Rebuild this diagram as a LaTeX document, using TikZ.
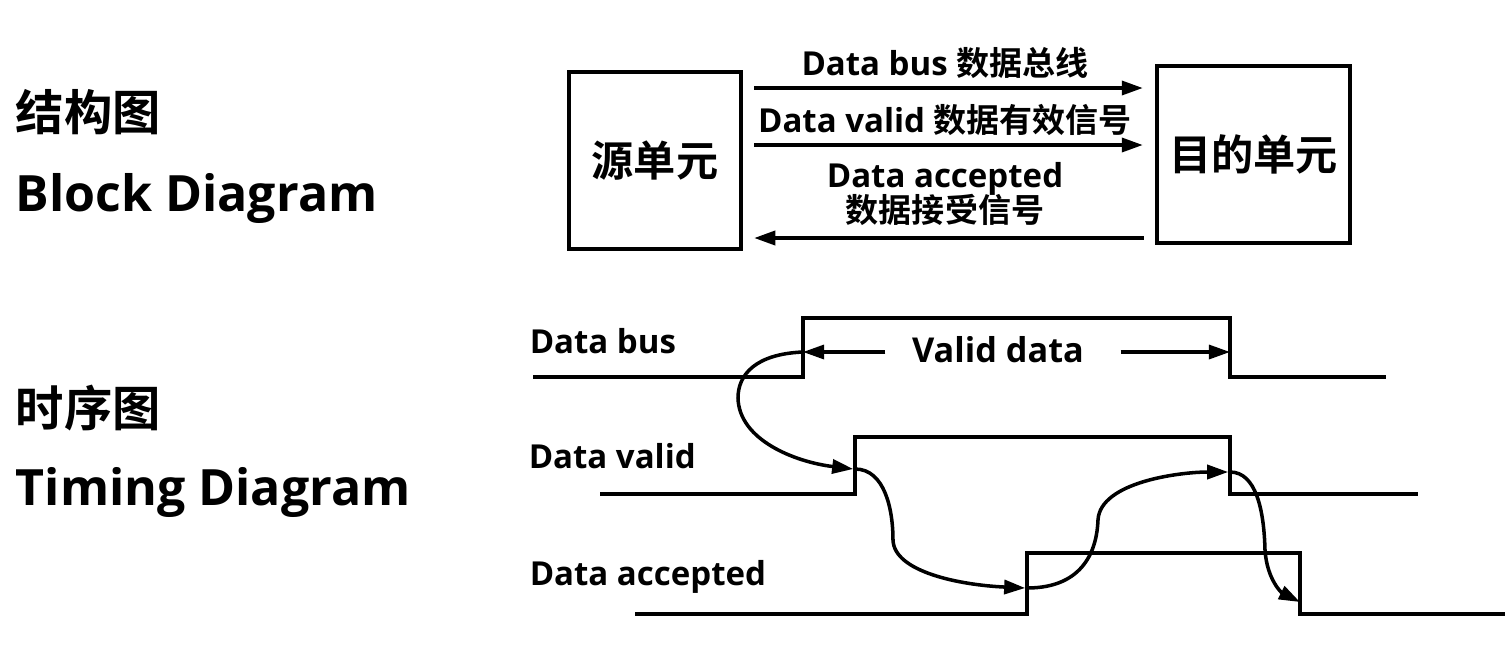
\documentclass[tikz,border=0pt]{standalone}
\usepackage{fontspec}
\setmainfont{Open Sans}
\newfontfamily\cjk{Noto Sans CJK SC}[BoldFont={Noto Sans CJK SC Bold}]
\usetikzlibrary{arrows.meta,positioning}

\begin{document}
\begin{tikzpicture}[
		x=0.02cm, y=-0.02cm,
		line width=2pt,
		>={Triangle[length=12pt,width=8pt]},
		every node/.style={inner sep=0pt, font=\bfseries},
		heading/.style={anchor=west, font=\bfseries\fontsize{28.5}{34}\selectfont},
		unitbox/.style={draw, line width=2.5pt, minimum height=3.54cm,
			font=\cjk\bfseries\fontsize{24}{29}\selectfont},
		siglabel/.style={font=\bfseries\fontsize{18.8}{22}\selectfont, align=center},
		wave/.style={line width=2.6pt},
		link/.style={->, line width=2pt}
		]
		
		\useasboundingbox (0,0) rectangle (1509,647);
		
		\node[heading, font=\cjk\bfseries\fontsize{27.5}{32}\selectfont] (blockcn) at (14,112) {结构图};
		\node[heading] (blocken) at (14,198) {Block Diagram};
		\node[heading, font=\cjk\bfseries\fontsize{27.5}{32}\selectfont] (timecn) at (14,408) {时序图};
		\node[heading] (timeen) at (14,492) {Timing Diagram};
		
		\node[unitbox, minimum width=3.44cm] (src) at (655,160.5) {源单元};
		\node[unitbox, minimum width=3.86cm] (dst) at (1253.5,154.5) {目的单元};
		
		\node[siglabel] (buslbl) at (945,63) {Data bus {\cjk 数据总线}};
		\node[siglabel] (validlbl) at (945,120) {Data valid {\cjk 数据有效信号}};
		\node[siglabel] (acclbl) at (945,194) {Data accepted\\[-2pt]{\cjk 数据接受信号}};
		
		\draw[link, shorten <=0.22cm, shorten >=0.24cm] (src.east |- 0,88) -- (dst.west |- 0,88);
		\draw[link, shorten <=0.22cm, shorten >=0.24cm] (src.east |- 0,145) -- (dst.west |- 0,145);
		\draw[link, shorten <=0.22cm, shorten >=0.22cm] (dst.west |- 0,238) -- (src.east |- 0,238);
		
		\node[siglabel, anchor=west] (busname) at (528,341) {Data bus};
		\node[siglabel, anchor=west] (validname) at (527,456) {Data valid};
		\node[siglabel, anchor=west] (accname) at (528,577) {Data accepted};
		
		\draw[wave] (533,377) -- (803,377) -- (803,318) -- (1230,318) -- (1230,377) -- (1386,377);
		\draw[wave] (600,494) -- (855,494) -- (855,437) -- (1230,437) -- (1230,494) -- (1418,494);
		\draw[wave] (635,614) -- (1027,614) -- (1027,553) -- (1300,553) -- (1300,614) -- (1505,614);
		
		\coordinate (busup) at (803,352);
		\coordinate (busdown) at (1230,352);
		\coordinate (validup) at (855,469);
		\coordinate (validdown) at (1230,472);
		\coordinate (accup) at (1027,588);
		\coordinate (accdown) at (1300,602);
		
		\node[siglabel, font=\bfseries\fontsize{19.5}{23}\selectfont] (span) at (998,350) {Valid data};
		\draw[link, line width=1.8pt] ([xshift=-0.5cm]span.west |- busup) -- (busup);
		\draw[link, line width=1.8pt] ([xshift=0.7cm]span.east |- busdown) -- (busdown);
		
		\draw[link] (busup) .. controls (755,354) and (738,375) .. (738,398)
			.. controls (739,440) and (795,462) .. ([xshift=-1pt]validup);
		\draw[link] (validup) .. controls (885,469) and (893,510) .. (893,540)
			.. controls (894,572) and (960,585) .. ([xshift=-1pt]accup);
		\draw[link] (accup) .. controls (1085,588) and (1097,548) .. (1098,520)
			.. controls (1100,482) and (1180,472) .. ([xshift=-1pt]validdown);
		\draw[link] (validdown) .. controls (1256,472) and (1264,510) .. (1265,550)
			.. controls (1267,580) and (1282,593) .. (accdown);
		
	\end{tikzpicture}
\end{document}
